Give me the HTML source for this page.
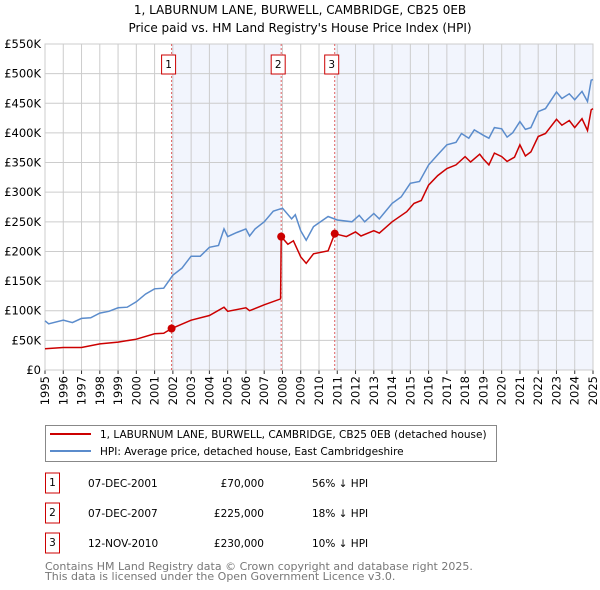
<!DOCTYPE html>
<html><head><meta charset="utf-8"><style>
body{margin:0;background:#fff;}
svg{display:block;font-family:"DejaVu Sans","Liberation Sans",sans-serif;}
</style></head><body>
<svg id="chart" width="600" height="590" viewBox="0 0 600 590">
<text x="300" y="14" text-anchor="middle" font-size="12" fill="#000">1, LABURNUM LANE, BURWELL, CAMBRIDGE, CB25 0EB</text>
<text x="300" y="32" text-anchor="middle" font-size="12" fill="#000">Price paid vs. HM Land Registry's House Price Index (HPI)</text>
<g id="plot"></g>
<g>
<rect x="45.5" y="425.5" width="451" height="36" fill="#fff" stroke="#888"/>
<line x1="50" y1="434" x2="91" y2="434" stroke="#cc0000" stroke-width="2"/>
<text x="100" y="438" font-size="10.5">1, LABURNUM LANE, BURWELL, CAMBRIDGE, CB25 0EB (detached house)</text>
<line x1="50" y1="451" x2="91" y2="451" stroke="#5b8ccc" stroke-width="2"/>
<text x="100" y="455" font-size="10.5">HPI: Average price, detached house, East Cambridgeshire</text>
</g>
<g id="table"></g>
<text x="45" y="570" font-size="11" fill="#777">Contains HM Land Registry data © Crown copyright and database right 2025.</text>
<text x="45" y="580" font-size="11" fill="#777">This data is licensed under the Open Government Licence v3.0.</text>
</svg>
<script>
const hpiYears=[1995,1995.2,1996,1996.5,1997,1997.5,1998,1998.5,1999,1999.5,2000,2000.5,2001,2001.5,2002,2002.5,2003,2003.5,2004,2004.5,2004.8,2005,2005.5,2006,2006.2,2006.5,2007,2007.5,2008,2008.5,2008.7,2009,2009.3,2009.7,2010.5,2011,2011.8,2012.2,2012.5,2013,2013.3,2014,2014.5,2015,2015.5,2016,2016.5,2017,2017.5,2017.8,2018.2,2018.5,2019,2019.3,2019.6,2020,2020.3,2020.6,2021,2021.3,2021.6,2022,2022.4,2023,2023.3,2023.7,2024,2024.4,2024.7,2024.9,2025];
const hpiValues=[83,78,84,80,87,88,96,99,105,106,115,128,137,138,160,172,192,192,207,210,238,225,232,238,226,238,250,268,273,255,262,235,219,242,259,253,250,261,250,264,255,281,292,315,318,346,363,380,384,399,391,405,396,391,409,407,393,400,419,406,409,436,441,469,458,466,456,470,453,489,490];
const priceYears=[1995,1996,1997,1998,1999,2000,2001,2001.5,2001.93,2003,2004,2004.8,2005,2006,2006.2,2007,2007.9,2007.93,2008.3,2008.6,2009,2009.3,2009.7,2010.5,2010.86,2011.5,2012,2012.3,2013,2013.3,2014,2014.8,2015.2,2015.6,2016,2016.5,2017,2017.5,2018,2018.3,2018.8,2019,2019.3,2019.6,2020,2020.3,2020.7,2021,2021.3,2021.6,2022,2022.4,2023,2023.3,2023.7,2024,2024.4,2024.7,2024.9,2025];
const priceValues=[36,38,38,44,47,52,61,62,70,84,92,106,99,105,100,110,120,225,212,218,191,180,196,201,230,225,233,226,235,231,250,267,281,286,312,328,340,346,360,351,364,356,346,366,360,352,359,380,361,368,394,399,423,413,421,409,424,404,439,441];
const saleLabels=["1","2","3"];
const saleYears=[2001.93,2007.93,2010.86];
const salePrices=[70,225,230];
const saleDates=["07-DEC-2001","07-DEC-2007","12-NOV-2010"];
const salePriceText=["£70,000","£225,000","£230,000"];
const salePctText=["56% ↓ HPI","18% ↓ HPI","10% ↓ HPI"];
const yTicks=[0,50,100,150,200,250,300,350,400,450,500,550];
const yTickLabels=["£0","£50K","£100K","£150K","£200K","£250K","£300K","£350K","£400K","£450K","£500K","£550K"];
const xTicks=[1995,1996,1997,1998,1999,2000,2001,2002,2003,2004,2005,2006,2007,2008,2009,2010,2011,2012,2013,2014,2015,2016,2017,2018,2019,2020,2021,2022,2023,2024,2025];

const NS="http://www.w3.org/2000/svg";
const L=45,R=593,T=44,B=370;
const X=y=>L+(y-1995)/(2025-1995)*(R-L);
const Y=v=>B-v/550*(B-T);
const plot=document.getElementById('plot');
function mk(tag,attrs,parent){const e=document.createElementNS(NS,tag);for(const k in attrs)e.setAttribute(k,attrs[k]);(parent||plot).appendChild(e);return e;}

let s1=mk('rect',{x:X(saleYears[0]),y:T,width:X(saleYears[1])-X(saleYears[0]),height:B-T,fill:'#f2f5fd'});


let s2=mk('rect',{x:X(saleYears[2]),y:T,width:X(2025)-X(saleYears[2]),height:B-T,fill:'#f2f5fd'});



yTicks.forEach((v,i)=>{
  const g=mk('line',{x1:L,x2:R,y1:Y(v),y2:Y(v),stroke:'#cccccc','stroke-width':1});
  
  
  const t=mk('text',{x:L-4,y:Y(v)+4,'text-anchor':'end','font-size':'11.5'});
  t.textContent=yTickLabels[i];
  
  
});
xTicks.forEach(yr=>{
  const g=mk('line',{x1:X(yr),x2:X(yr),y1:T,y2:B,stroke:'#cccccc','stroke-width':1});
  
  
  const tk=mk('line',{x1:X(yr),x2:X(yr),y1:B,y2:B+4,stroke:'#333'});
  
  
  const t=mk('text',{x:0,y:0,'text-anchor':'end','font-size':'11.5',transform:`translate(${X(yr)+4},${B+6}) rotate(-90)`});
  t.textContent=yr;
  
  
});
const fr=mk('rect',{x:L,y:T,width:R-L,height:B-T,fill:'none',stroke:'#cccccc'});



saleYears.forEach((yr,i)=>{
  const l=mk('line',{x1:X(yr),x2:X(yr),y1:T,y2:B,stroke:'#e06060','stroke-width':1,'stroke-dasharray':'2,2'});
  
  
  const bx=mk('rect',{x:X(yr)-10,y:55,width:14,height:19,fill:'#fff',stroke:'#cc0000'});
  
  
  const t=mk('text',{x:X(yr)-3,y:68,'text-anchor':'middle','font-size':'10.5'});
  t.textContent=saleLabels[i];
  
  
});

function path(xs,vs){return xs.map((x,i)=>(i?'L':'M')+X(x).toFixed(1)+','+Y(vs[i]).toFixed(1)).join('');}
const hp=mk('path',{d:path(hpiYears,hpiValues),fill:'none',stroke:'#5b8ccc','stroke-width':1.5});


const pp=mk('path',{d:path(priceYears,priceValues),fill:'none',stroke:'#cc0000','stroke-width':1.5});


saleYears.forEach((yr,i)=>{
  const c=mk('circle',{cx:X(yr),cy:Y(salePrices[i]),r:4,fill:'#cc0000'});
  
  
});

const tb=document.getElementById('table');
saleLabels.forEach((lab,i)=>{
  const cy=483+i*30;
  const bx=mk('rect',{x:45.5,y:cy-10,width:14,height:20,fill:'#fff',stroke:'#cc0000'},tb);
  
  
  const t0=mk('text',{x:52.5,y:cy+3,'text-anchor':'middle','font-size':'10.5'},tb);
  t0.textContent=lab;
  
  
  const t1=mk('text',{x:88,y:cy+4,'font-size':'10.5'},tb);
  t1.textContent=saleDates[i];
  
  
  const t2=mk('text',{x:264,y:cy+4,'text-anchor':'end','font-size':'10.5'},tb);
  t2.textContent=salePriceText[i];
  
  
  const t3=mk('text',{x:312,y:cy+4,'font-size':'10.5'},tb);
  t3.textContent=salePctText[i];
  
  
});
</script>
</body></html>
